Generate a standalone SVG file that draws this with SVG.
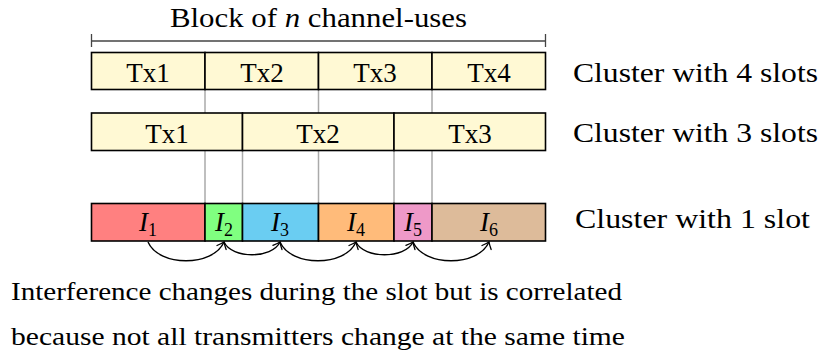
<svg xmlns="http://www.w3.org/2000/svg" width="822" height="356" viewBox="0 0 822 356">
<defs>
<marker id="ah" markerUnits="userSpaceOnUse" markerWidth="14" markerHeight="14" refX="0" refY="0" viewBox="-8 -7 10 14" orient="auto" overflow="visible">
<path d="M-6,-5 Q-2,-1.2 0,0 Q-2,1.2 -6,5" fill="none" stroke="#000" stroke-width="1.3" stroke-linecap="round"/>
</marker>
</defs>
<rect width="822" height="356" fill="#fff"/>

<g id="guides" stroke="#AAAAAA" stroke-width="1.5" fill="none">
<line x1="205" y1="89" x2="205" y2="241"/>
<line x1="318.5" y1="89" x2="318.5" y2="241"/>
<line x1="432" y1="89" x2="432" y2="241"/>
<line x1="242.5" y1="150" x2="242.5" y2="241"/>
<line x1="394" y1="150" x2="394" y2="241"/>
</g>

<g id="block-span">
<line x1="91.5" y1="41" x2="545.5" y2="41" stroke="#444" stroke-width="1.3"/>
<line x1="91.5" y1="34" x2="91.5" y2="47" stroke="#444" stroke-width="1.3"/>
<line x1="545.5" y1="34" x2="545.5" y2="47" stroke="#444" stroke-width="1.3"/>
<text x="170" y="27" font-family="Liberation Serif, Times New Roman, serif" font-size="27" textLength="297" lengthAdjust="spacingAndGlyphs">Block of <tspan font-style="italic">n</tspan> channel-uses</text>
</g>

<g id="cluster4">
<g stroke="#000" stroke-width="1.6" fill="#FFF9D4">
<rect x="91.5" y="52.5" width="113.5" height="37"/>
<rect x="205" y="52.5" width="113.5" height="37"/>
<rect x="318.5" y="52.5" width="113.5" height="37"/>
<rect x="432" y="52.5" width="113.5" height="37"/>
</g>
<text x="148" y="82" font-family="Liberation Serif, Times New Roman, serif" font-size="27" text-anchor="middle">Tx1</text>
<text x="262" y="82" font-family="Liberation Serif, Times New Roman, serif" font-size="27" text-anchor="middle">Tx2</text>
<text x="375" y="82" font-family="Liberation Serif, Times New Roman, serif" font-size="27" text-anchor="middle">Tx3</text>
<text x="489" y="82" font-family="Liberation Serif, Times New Roman, serif" font-size="27" text-anchor="middle">Tx4</text>
<text x="573" y="82" font-family="Liberation Serif, Times New Roman, serif" font-size="27" textLength="245" lengthAdjust="spacingAndGlyphs">Cluster with 4 slots</text>
</g>

<g id="cluster3">
<g stroke="#000" stroke-width="1.6" fill="#FFF9D4">
<rect x="91.5" y="113" width="151" height="37.5"/>
<rect x="242.5" y="113" width="151.5" height="37.5"/>
<rect x="394" y="113" width="151.5" height="37.5"/>
</g>
<text x="167" y="142.5" font-family="Liberation Serif, Times New Roman, serif" font-size="27" text-anchor="middle">Tx1</text>
<text x="318" y="142.5" font-family="Liberation Serif, Times New Roman, serif" font-size="27" text-anchor="middle">Tx2</text>
<text x="470" y="142.5" font-family="Liberation Serif, Times New Roman, serif" font-size="27" text-anchor="middle">Tx3</text>
<text x="573" y="142" font-family="Liberation Serif, Times New Roman, serif" font-size="27" textLength="245" lengthAdjust="spacingAndGlyphs">Cluster with 3 slots</text>
</g>

<g id="cluster1">
<g stroke="#000" stroke-width="1.6">
<rect fill="#FF8080" x="91.5" y="203.5" width="113.5" height="37.5"/>
<rect fill="#80FF80" x="205" y="203.5" width="37.5" height="37.5"/>
<rect fill="#6ACDF2" x="242.5" y="203.5" width="76" height="37.5"/>
<rect fill="#FFBB7A" x="318.5" y="203.5" width="75.5" height="37.5"/>
<rect fill="#EE99C8" x="394" y="203.5" width="38" height="37.5"/>
<rect fill="#DDBB9A" x="432" y="203.5" width="113.5" height="37.5"/>
</g>
<text x="148" y="231" font-family="Liberation Serif, Times New Roman, serif" font-size="27" text-anchor="middle"><tspan font-style="italic">I</tspan><tspan font-size="18" dy="5">1</tspan></text>
<text x="224" y="231" font-family="Liberation Serif, Times New Roman, serif" font-size="27" text-anchor="middle"><tspan font-style="italic">I</tspan><tspan font-size="18" dy="5">2</tspan></text>
<text x="280" y="231" font-family="Liberation Serif, Times New Roman, serif" font-size="27" text-anchor="middle"><tspan font-style="italic">I</tspan><tspan font-size="18" dy="5">3</tspan></text>
<text x="356" y="231" font-family="Liberation Serif, Times New Roman, serif" font-size="27" text-anchor="middle"><tspan font-style="italic">I</tspan><tspan font-size="18" dy="5">4</tspan></text>
<text x="413" y="231" font-family="Liberation Serif, Times New Roman, serif" font-size="27" text-anchor="middle"><tspan font-style="italic">I</tspan><tspan font-size="18" dy="5">5</tspan></text>
<text x="489" y="231" font-family="Liberation Serif, Times New Roman, serif" font-size="27" text-anchor="middle"><tspan font-style="italic">I</tspan><tspan font-size="18" dy="5">6</tspan></text>
<text x="575" y="228" font-family="Liberation Serif, Times New Roman, serif" font-size="27" textLength="235" lengthAdjust="spacingAndGlyphs">Cluster with 1 slot</text>
</g>

<g id="caption">
<text x="11" y="300" font-family="Liberation Serif, Times New Roman, serif" font-size="26" textLength="611" lengthAdjust="spacingAndGlyphs">Interference changes during the slot but is correlated</text>
<text x="11" y="345" font-family="Liberation Serif, Times New Roman, serif" font-size="26" textLength="614" lengthAdjust="spacingAndGlyphs">because not all transmitters change at the same time</text>
</g>

<g id="connectors" stroke="#000" stroke-width="1.4" fill="none" marker-end="url(#ah)">
<path d="M148,242 C159,267 213,267 224,242"/>
<path d="M224,242 C232,259 272,259 280,242"/>
<path d="M280,242 C291,267 345,267 356,242"/>
<path d="M356,242 C364,259 405,259 413,242"/>
<path d="M413,242 C424,267 478,267 489,242"/>
</g>
</svg>
